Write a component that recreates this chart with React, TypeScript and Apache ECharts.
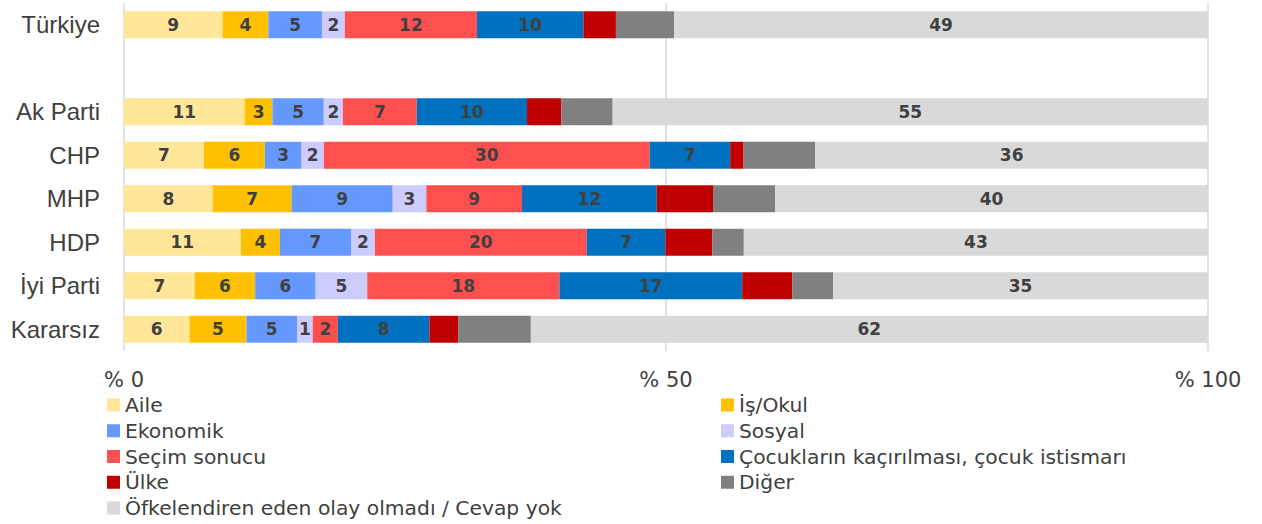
import React, { useEffect, useRef } from "react";
import * as echarts from "echarts";

const categories = ["Türkiye", "", "Ak Parti", "CHP", "MHP", "HDP", "İyi Parti", "Kararsız"];
const seriesNames = [
  "Aile",
  "İş/Okul",
  "Ekonomik",
  "Sosyal",
  "Seçim sonucu",
  "Çocukların kaçırılması, çocuk istismarı",
  "Ülke",
  "Diğer",
  "Öfkelendiren eden olay olmadı / Cevap yok",
];
const aile = [9.09, null, 11.13, 7.38, 8.19, 10.77, 6.52, 6.04];
const isOkul = [4.23, null, 2.57, 5.61, 7.27, 3.61, 5.58, 5.26];
const ekonomik = [4.94, null, 4.73, 3.39, 9.33, 6.56, 5.58, 4.66];
const sosyal = [2.11, null, 1.76, 2.05, 3.1, 2.2, 4.76, 1.45];
const secim = [12.19, null, 6.82, 30.07, 8.83, 19.56, 17.73, 2.32];
const cocuk = [9.82, null, 10.17, 7.42, 12.43, 7.24, 16.86, 8.44];
const ulke = [3.0, null, 3.17, 1.24, 5.19, 4.34, 4.61, 2.65];
const diger = [5.36, null, 4.73, 6.61, 5.72, 2.9, 3.78, 6.71];
const cevapYok = [49.26, null, 54.9, 36.23, 39.94, 42.83, 34.62, 62.46];
const xTicks = ["% 0", "% 50", "% 100"];

const allValues = [aile, isOkul, ekonomik, sosyal, secim, cocuk, ulke, diger, cevapYok];
const colors = ["#FFE699", "#FFC000", "#6699FF", "#CCCCFF", "#FF5050", "#0070C0", "#C00000", "#808080", "#D9D9D9"];
const showLabel = [true, true, true, true, true, true, false, false, true];

export default function App() {
  const ref = useRef<HTMLDivElement>(null);
  useEffect(() => {
    if (!ref.current) return;
    const chart = echarts.init(ref.current, null, { renderer: "svg" });
    const font = "Liberation Sans, Arial, sans-serif";
    const legendFont = "DejaVu Sans, sans-serif";
    const legendCommon = {
      orient: "vertical" as const,
      itemWidth: 13,
      itemHeight: 13,
      itemGap: 5.75,
      padding: 0,
      height: 129,
      icon: "rect",
      textStyle: { fontSize: 20.3, lineHeight: 20, color: "#404040", fontFamily: legendFont },
    };
    chart.setOption({
      animation: false,
      textStyle: { fontFamily: font },
      grid: { left: 124, right: 54, top: 3, bottom: 173 },
      xAxis: {
        type: "value",
        min: 0,
        max: 100,
        interval: 50,
        axisLine: { show: false },
        axisTick: { show: false },
        splitLine: { show: true, lineStyle: { color: "#D9D9D9", width: 1.5 } },
        axisLabel: {
          fontSize: 21,
          color: "#404040",
          margin: 18,
          fontFamily: legendFont,
          formatter: (v: number) => xTicks[Math.round(v / 50)] ?? "",
        },
      },
      yAxis: {
        type: "category",
        data: categories,
        inverse: true,
        axisLine: { show: false },
        axisTick: { show: false },
        axisLabel: { fontSize: 24, color: "#404040", margin: 24, fontFamily: font },
      },
      legend: [
        {
          ...legendCommon,
          left: 107,
          top: 395,
          data: [seriesNames[0], seriesNames[2], seriesNames[4], seriesNames[6], seriesNames[8]],
        },
        {
          ...legendCommon,
          left: 721,
          top: 395,
          data: [seriesNames[1], seriesNames[3], seriesNames[5], seriesNames[7]],
        },
      ],
      series: seriesNames.map((name, i) => ({
        name,
        type: "bar",
        stack: "total",
        barWidth: 27,
        data: allValues[i],
        itemStyle: { color: colors[i] },
        label: {
          show: showLabel[i],
          position: "inside",
          fontSize: 17,
          fontWeight: "bold",
          color: "#404040",
          fontFamily: "DejaVu Sans, sans-serif",
          formatter: (p: any) => (p.value == null ? "" : String(Math.round(p.value))),
        },
        emphasis: { disabled: true },
      })),
    });
    return () => chart.dispose();
  }, []);
  return (
    <div
      ref={ref}
      style={{ position: "absolute", left: 0, top: 0, width: 1262, height: 524, background: "#fff" }}
    />
  );
}
